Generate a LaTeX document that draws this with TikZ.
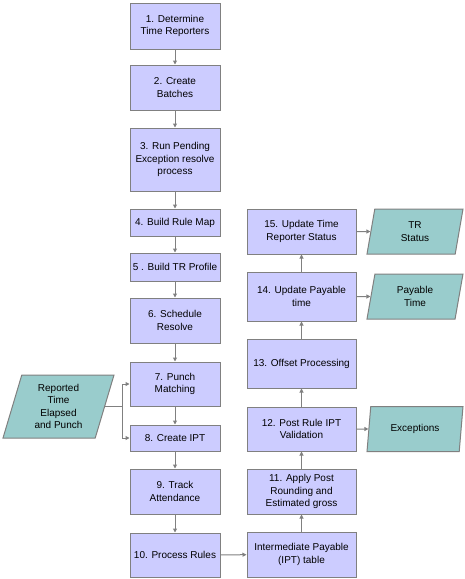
\documentclass[tikz,border=0pt]{standalone}
\usepackage{fontspec}
\setmainfont{Liberation Sans}
\usetikzlibrary{arrows.meta,positioning,shapes.geometric}
\definecolor{procfill}{HTML}{CCCCFF}
\definecolor{datafill}{HTML}{99CCCC}
\definecolor{edge}{HTML}{808080}

\begin{document}
\begin{tikzpicture}[x=1pt, y=-1pt,
      box/.style={draw=edge, fill=procfill, line width=1pt, inner sep=0pt, align=center, minimum width=90pt, font=\fontsize{10}{12.3}\selectfont},
      wbox/.style={box, minimum width=109pt},
      data/.style={draw=edge, fill=datafill, line width=1pt, trapezium, trapezium left angle=68, trapezium right angle=112, trapezium stretches body, inner sep=0pt, align=center, minimum width=96pt, minimum height=45pt, font=\fontsize{10}{12.3}\selectfont},
      arr/.style={-{Triangle[length=4pt,width=4pt]}, line width=1pt, color=edge},
      ln/.style={line width=1pt, color=edge}]
    \useasboundingbox (0,0) rectangle (465,579);
    % left column
    \node[box, minimum height=46pt] (s1) at (175,26) {1. Determine\\Time Reporters};
    \node[box, minimum height=45pt] (s2) at (175,87.5) {2. Create\\Batches};
    \node[box, minimum height=63pt] (s3) at (175,159.5) {3. Run Pending\\Exception resolve\\process};
    \node[box, minimum height=27pt] (s4) at (175,222.5) {4. Build Rule Map};
    \node[box, minimum height=28pt] (s5) at (175,267) {5 . Build TR Profile};
    \node[box, minimum height=45pt] (s6) at (175,320.5) {6. Schedule\\Resolve};
    \node[box, minimum height=44pt] (s7) at (175,384) {7. Punch\\Matching};
    \node[box, minimum height=26pt] (s8) at (175,438) {8. Create IPT};
    \node[box, minimum height=45pt] (s9) at (175,491.5) {9. Track\\Attendance};
    \node[box, minimum height=44pt] (s10) at (175,555) {10. Process Rules};
    % right column
    \node[wbox, minimum height=45pt] (ipt) at (301.5,554.5) {Intermediate Payable\\(IPT) table};
    \node[wbox, minimum height=45pt] (s11) at (301.5,491.5) {11. Apply Post\\Rounding and\\Estimated gross};
    \node[wbox, minimum height=44pt] (s12) at (301.5,429) {12. Post Rule IPT\\Validation};
    \node[wbox, minimum height=49pt] (s13) at (301.5,363.5) {13. Offset Processing};
    \node[wbox, minimum height=49pt] (s14) at (301.5,296.5) {14. Update Payable\\time};
    \node[wbox, minimum height=45pt] (s15) at (301.5,231.5) {15. Update Time\\Reporter Status};
    % data
    \node[data, minimum width=111pt, minimum height=63pt, trapezium left angle=67, trapezium right angle=113] (rep) at (58.5,406.5) {Reported\\Time\\Elapsed\\and Punch};
    \node[data] (trs) at (415,231.5) {TR\\Status};
    \node[data] (pay) at (415,296.5) {Payable\\Time};
    \node[data] (exc) at (415,429) {Exceptions};
    \coordinate (split) at ([xshift=17pt]rep.east);
    % connectors
    \draw[arr] (s1) -- (s2);
    \draw[arr] (s2) -- (s3);
    \draw[arr] (s3) -- (s4);
    \draw[arr] (s4) -- (s5);
    \draw[arr] (s5) -- (s6);
    \draw[arr] (s6) -- (s7);
    \draw[arr] (s7) -- (s8);
    \draw[arr] (s8) -- (s9);
    \draw[arr] (s9) -- (s10);
    \draw[ln] (rep.east) -- (split);
    \draw[arr] (split) |- (s7);
    \draw[arr] (split) |- (s8);
    \draw[arr] (s10) -- (ipt);
    \draw[arr] (ipt) -- (s11);
    \draw[arr] (s11) -- (s12);
    \draw[arr] (s12) -- (s13);
    \draw[arr] (s13) -- (s14);
    \draw[arr] (s14) -- (s15);
    \draw[arr] (s15) -- (trs);
    \draw[arr] (s14) -- (pay);
    \draw[arr] (s12) -- (exc);
  \end{tikzpicture}
\end{document}
